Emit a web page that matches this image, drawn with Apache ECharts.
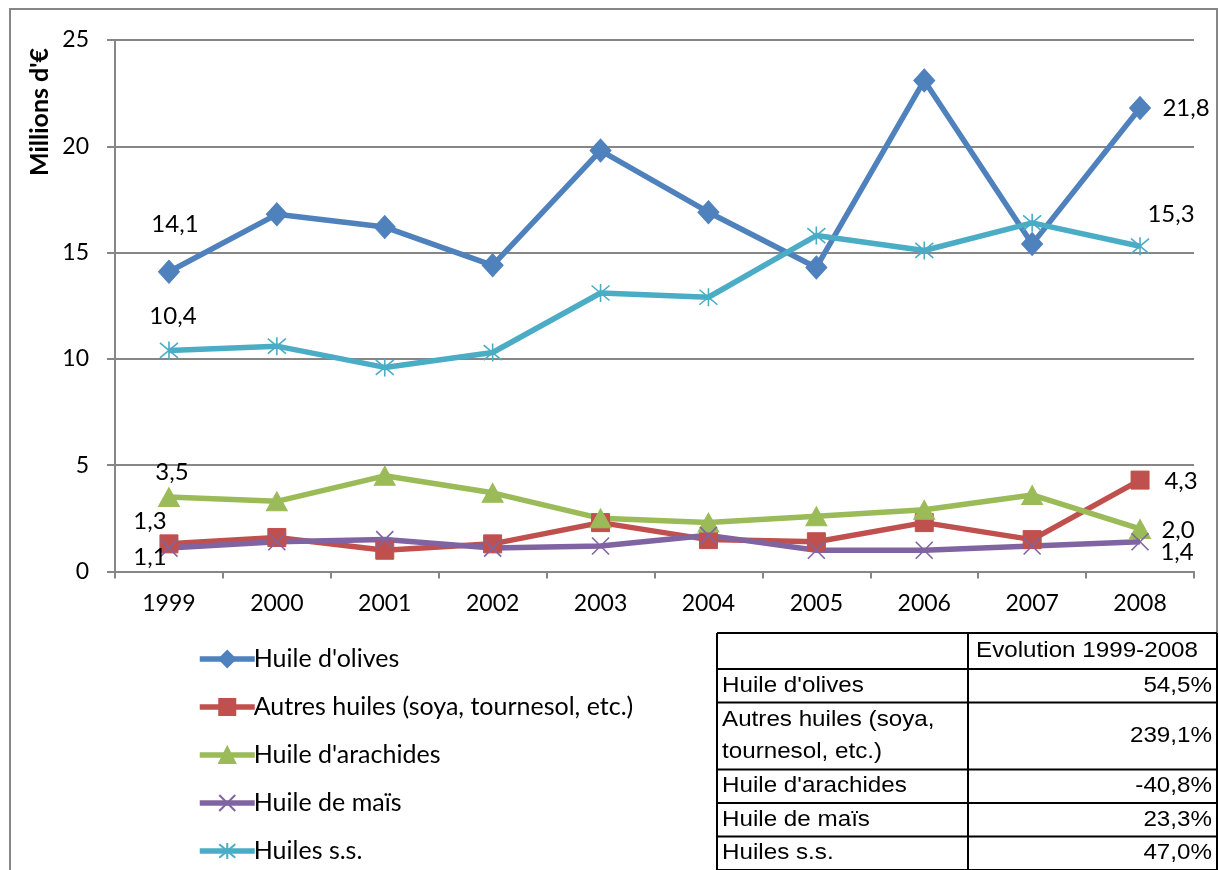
<!DOCTYPE html>
<html>
<head>
<meta charset="utf-8">
<script src="https://cdn.jsdelivr.net/npm/echarts@6/dist/echarts.min.js"></script>
<style>
  html, body { margin: 0; padding: 0; background: #fff; }
  #chart { width: 1219px; height: 870px; }
</style>
</head>
<body>
<div id="chart"></div>
<script>
// Categories and values (millions d'euros)
const years = ['1999', '2000', '2001', '2002', '2003', '2004', '2005', '2006', '2007', '2008'];
const olives    = [14.1, 16.8, 16.2, 14.4, 19.8, 16.9, 14.3, 23.1, 15.4, 21.8];
const autres    = [1.3, 1.6, 1.0, 1.3, 2.3, 1.5, 1.4, 2.3, 1.5, 4.3];
const arachides = [3.5, 3.3, 4.5, 3.7, 2.5, 2.3, 2.6, 2.9, 3.6, 2.0];
const mais      = [1.1, 1.4, 1.5, 1.1, 1.2, 1.7, 1.0, 1.0, 1.2, 1.4];
const huilesSS  = [10.4, 10.6, 9.6, 10.3, 13.1, 12.9, 15.8, 15.1, 16.4, 15.3];

const seriesNames = [
  "Huile d'olives",
  'Autres huiles (soya, tournesol, etc.)',
  "Huile d'arachides",
  'Huile de maïs',
  'Huiles s.s.'
];

// Summary table
const tableHeader = 'Evolution 1999-2008';
const tableNames = ["Huile d'olives", 'Autres huiles (soya,\ntournesol, etc.)', "Huile d'arachides", 'Huile de maïs', 'Huiles s.s.'];
const tableValues = ['54,5%', '239,1%', '-40,8%', '23,3%', '47,0%'];

const FONT = 'Lato';
const TABLE_FONT = 'Liberation Sans';

const fmt = v => v.toFixed(1).replace('.', ',');

// Label placement for the first and last points of each line
const labelOffsets = [
  [[6, -47], [46, 0]],
  [[-19, -23], [41, 1]],
  [[3, -25], [38, 1]],
  [[-19, 9], [37, 11]],
  [[4, -34], [31, -32]]
];

const styles = [
  { color: '#4F81BD', symbol: 'diamond', symbolSize: [21, 23], border: 1 },
  { color: '#C0504D', symbol: 'rect', symbolSize: 18, border: 1 },
  { color: '#9BBB59', symbol: 'triangle', symbolSize: [21, 19], border: 1 },
  { color: '#8064A2', symbol: 'path://M0 0 L10 10 M10 0 L0 10', symbolSize: 17, border: 1.6 },
  { color: '#4BACC6', symbol: 'path://M0 0 L10 10 M10 0 L0 10 M5 -1 L5 11', symbolSize: 18, border: 1.6 }
];

const allValues = [olives, autres, arachides, mais, huilesSS];

function buildData(values, idx) {
  const last = values.length - 1;
  return values.map((v, i) => {
    if (i !== 0 && i !== last) return v;
    return {
      value: v,
      label: {
        show: true,
        position: 'inside',
        offset: labelOffsets[idx][i === 0 ? 0 : 1],
        formatter: p => fmt(p.value),
        color: '#000',
        fontFamily: FONT,
        fontSize: 24
      }
    };
  });
}

const series = allValues.map((values, idx) => ({
  name: seriesNames[idx],
  type: 'line',
  data: buildData(values, idx),
  symbol: styles[idx].symbol,
  symbolSize: styles[idx].symbolSize,
  showAllSymbol: true,
  lineStyle: { color: styles[idx].color, width: 5.5 },
  itemStyle: { color: styles[idx].color, borderColor: styles[idx].color, borderWidth: styles[idx].border },
  emphasis: { disabled: true },
  animation: false
}));

// Table drawn as graphic elements
const tX0 = 717, tX1 = 968, tX2 = 1217;
const headerH = 36, lineH = 33.5;
const tableGraphics = [];
let rowTop = 633;
const rowTops = [rowTop];
rowTop += headerH;
tableNames.forEach(n => {
  rowTops.push(rowTop);
  rowTop += lineH * n.split('\n').length;
});
rowTops.push(rowTop);

const tStroke = { stroke: '#000', lineWidth: 2 };
// horizontal rules
rowTops.forEach(y => {
  tableGraphics.push({ type: 'line', shape: { x1: tX0, y1: y, x2: tX2, y2: y }, style: tStroke, silent: true });
});
// vertical rules
[tX0, tX1, tX2].forEach(x => {
  tableGraphics.push({ type: 'line', shape: { x1: x, y1: rowTops[0], x2: x, y2: rowTops[rowTops.length - 1] }, style: tStroke, silent: true });
});
const tText = { fill: '#000', fontFamily: TABLE_FONT, fontSize: 22, lineHeight: 32 };
const SX = 1.1;
tableGraphics.push({
  type: 'text', x: tX1 + 8, y: (rowTops[0] + rowTops[1]) / 2, scaleX: SX,
  style: Object.assign({ text: tableHeader, align: 'left', verticalAlign: 'middle' }, tText)
});
tableNames.forEach((n, i) => {
  const cy = (rowTops[i + 1] + rowTops[i + 2]) / 2;
  tableGraphics.push({
    type: 'text', x: tX0 + 5, y: cy, scaleX: SX,
    style: Object.assign({ text: n, align: 'left', verticalAlign: 'middle' }, tText)
  });
  tableGraphics.push({
    type: 'text', x: tX2 - 5, y: cy, scaleX: SX,
    style: Object.assign({ text: tableValues[i], align: 'right', verticalAlign: 'middle' }, tText)
  });
});

const chart = echarts.init(document.getElementById('chart'), null, { renderer: 'canvas' });
chart.setOption({
  backgroundColor: '#fff',
  animation: false,
  grid: { left: 115, right: 25, top: 40, bottom: 298.5, containLabel: false },
  xAxis: {
    type: 'category',
    data: years,
    boundaryGap: true,
    axisLine: { lineStyle: { color: '#868686', width: 2 } },
    axisTick: { show: true, length: 7, interval: 0, lineStyle: { color: '#868686', width: 2 } },
    axisLabel: { color: '#000', fontFamily: FONT, fontSize: 23, margin: 21, interval: 0 },
    splitLine: { show: false }
  },
  yAxis: {
    type: 'value',
    min: 0, max: 25, interval: 5,
    axisLine: { show: true, lineStyle: { color: '#868686', width: 2 } },
    axisTick: { show: true, length: 8, lineStyle: { color: '#868686', width: 2 } },
    axisLabel: { color: '#000', fontFamily: FONT, fontSize: 23, margin: 26 },
    splitLine: { show: true, lineStyle: { color: '#868686', width: 2 } }
  },
  legend: {
    orient: 'vertical',
    left: 197,
    top: 646,
    height: 224,
    padding: 0,
    itemWidth: 55,
    itemHeight: 20,
    itemGap: 22,
    selectedMode: false,
    lineStyle: { width: 5.5 },
    textStyle: { color: '#000', fontFamily: FONT, fontSize: 25, lineHeight: 26, padding: [0, 0, 0, -6] },
    data: seriesNames
  },
  graphic: [
    { type: 'rect', shape: { x: 10, y: 9, width: 1207, height: 900 }, style: { fill: 'none', stroke: '#868686', lineWidth: 2 }, silent: true, z: -1 },
    {
      type: 'text', x: 40, y: 112, rotation: Math.PI / 2,
      style: { text: "Millions d'€", fill: '#000', fontFamily: FONT, fontSize: 25, fontWeight: 'bold', align: 'center', verticalAlign: 'middle' },
      silent: true
    }
  ].concat(tableGraphics),
  series: series
});
</script>
</body>
</html>
